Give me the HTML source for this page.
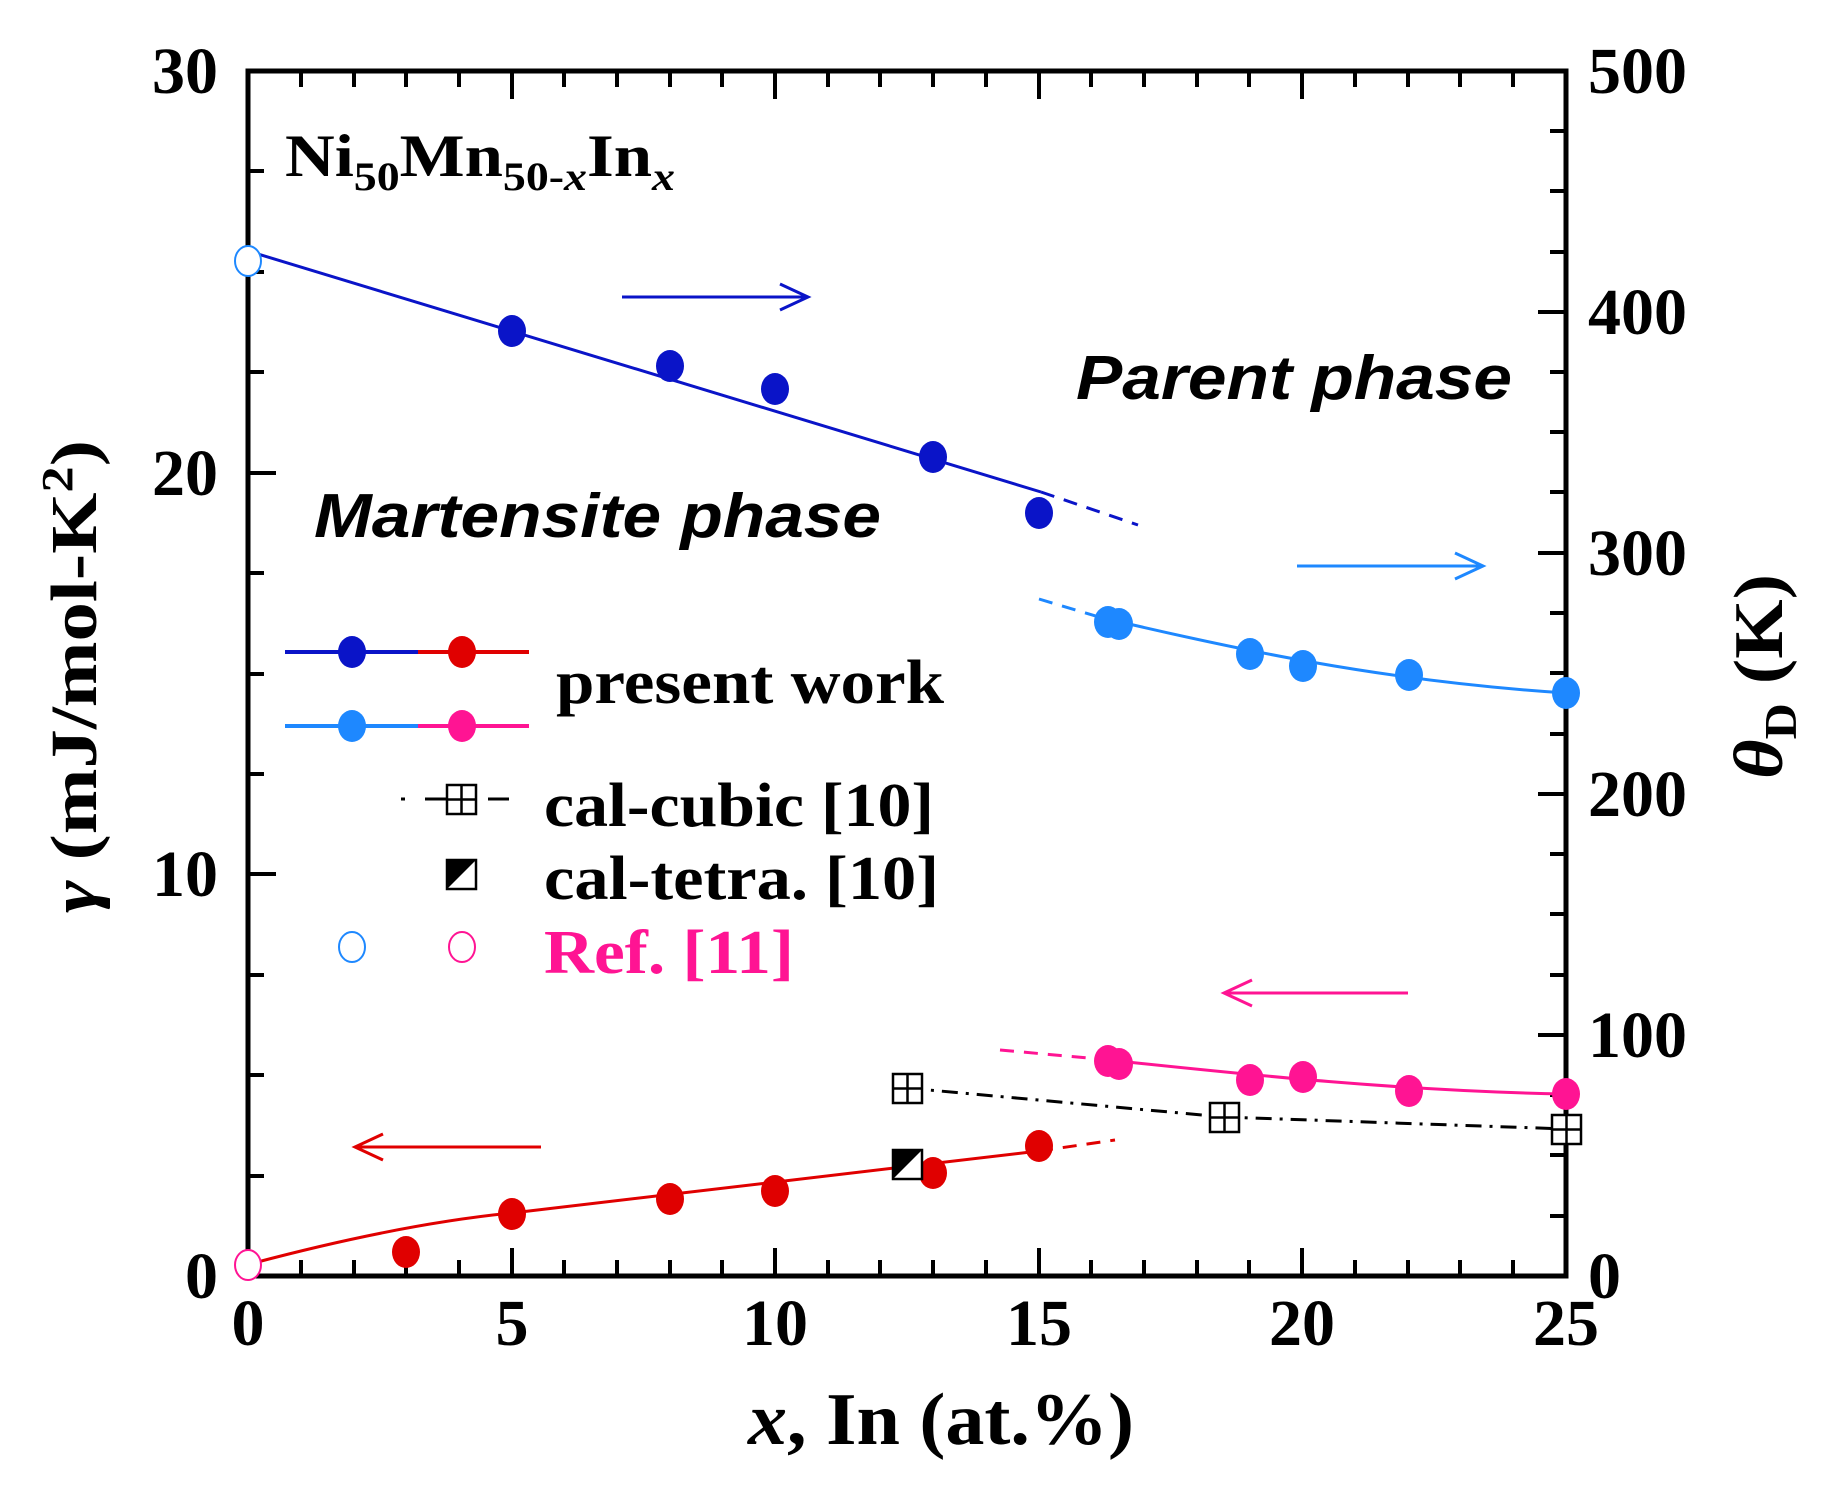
<!DOCTYPE html>
<html><head><meta charset="utf-8"><style>
html,body{margin:0;padding:0;background:#fff;}
svg{display:block;}
text{font-family:"Liberation Serif",serif;font-weight:bold;}
.s{font-family:"Liberation Sans",sans-serif;font-style:italic;font-weight:bold;}
</style></head><body>
<svg width="1824" height="1490" viewBox="0 0 1824 1490" xmlns="http://www.w3.org/2000/svg">
<rect x="248" y="71" width="1318" height="1205" fill="none" stroke="#000" stroke-width="5"/>
<g stroke="#000" stroke-width="4">
<path d="M248,1276v-28M301,1276v-16M354,1276v-16M406,1276v-16M459,1276v-16M512,1276v-28M564,1276v-16M617,1276v-16M670,1276v-16M722,1276v-16M775,1276v-28M828,1276v-16M880,1276v-16M933,1276v-16M986,1276v-16M1039,1276v-28M1091,1276v-16M1144,1276v-16M1197,1276v-16M1249,1276v-16M1302,1276v-28M1355,1276v-16M1408,1276v-16M1460,1276v-16M1513,1276v-16"/>
<path d="M301,71v16M354,71v16M406,71v16M459,71v16M512,71v28M564,71v16M617,71v16M670,71v16M722,71v16M775,71v28M828,71v16M880,71v16M933,71v16M986,71v16M1039,71v28M1091,71v16M1144,71v16M1197,71v16M1249,71v16M1302,71v28M1355,71v16M1408,71v16M1460,71v16M1513,71v16"/>
<path d="M248,1176h16M248,1075h16M248,975h16M248,874h28M248,774h16M248,674h16M248,573h16M248,473h28M248,372h16M248,272h16M248,171h16"/>
<path d="M1566,1216h-16M1566,1155h-16M1566,1095h-16M1566,1035h-28M1566,975h-16M1566,914h-16M1566,854h-16M1566,794h-28M1566,734h-16M1566,673h-16M1566,613h-16M1566,553h-28M1566,492h-16M1566,432h-16M1566,372h-16M1566,312h-28M1566,252h-16M1566,191h-16M1566,131h-16"/>
</g>
<g font-size="66" text-anchor="end">
<text x="218" y="1298">0</text><text x="218" y="896">10</text><text x="218" y="495">20</text><text x="218" y="93">30</text>
</g>
<g font-size="66" text-anchor="start">
<text x="1588" y="1298">0</text><text x="1588" y="1057">100</text><text x="1588" y="816">200</text><text x="1588" y="575">300</text><text x="1588" y="334">400</text><text x="1588" y="93">500</text>
</g>
<g font-size="66" text-anchor="middle">
<text x="248" y="1345">0</text><text x="512" y="1345">5</text><text x="775" y="1345">10</text><text x="1039" y="1345">15</text><text x="1302" y="1345">20</text><text x="1566" y="1345">25</text>
</g>
<text x="748" y="1444" font-size="74" textLength="386" lengthAdjust="spacingAndGlyphs"><tspan font-style="italic">x</tspan>, In (at.%)</text>
<text transform="translate(96,913) rotate(-90)" font-size="66" textLength="473" lengthAdjust="spacingAndGlyphs"><tspan font-style="italic">γ</tspan> (mJ/mol-K<tspan font-size="44" dy="-24">2</tspan><tspan dy="24">)</tspan></text>
<text transform="translate(1782,779) rotate(-90)" font-size="70" textLength="205" lengthAdjust="spacingAndGlyphs"><tspan font-style="italic">θ</tspan><tspan font-size="46" dy="14">D</tspan><tspan dy="-14"> (K)</tspan></text>
<text x="285" y="176" font-size="60" textLength="390" lengthAdjust="spacingAndGlyphs">Ni<tspan font-size="40" dy="14">50</tspan><tspan dy="-14">Mn</tspan><tspan font-size="40" dy="14">50-<tspan font-style="italic">x</tspan></tspan><tspan dy="-14">In</tspan><tspan font-size="40" dy="14" font-style="italic">x</tspan></text>
<text class="s" x="1076" y="399" font-size="62" textLength="436" lengthAdjust="spacingAndGlyphs">Parent phase</text>
<text class="s" x="314" y="537" font-size="62" textLength="567" lengthAdjust="spacingAndGlyphs">Martensite phase</text>
<g fill="none" stroke-width="3">
<path d="M622,297H808M780,284L808,297L780,310" stroke="#0a14c8"/>
<path d="M1297,566H1483M1455,553L1483,566L1455,579" stroke="#1e88ff"/>
<path d="M1408,993H1224M1252,980L1224,993L1252,1006" stroke="#ff1493"/>
<path d="M541,1147H355M383,1134L355,1147L383,1160" stroke="#e00000"/>
</g>
<path d="M248,251L1041,492" stroke="#0a14c8" stroke-width="3" fill="none"/>
<path d="M1041,492L1138,525" stroke="#0a14c8" stroke-width="3" fill="none" stroke-dasharray="14,10"/>
<g fill="#0a14c8">
<ellipse cx="512" cy="331" rx="14" ry="16"/><ellipse cx="670" cy="366" rx="14" ry="16"/><ellipse cx="775" cy="389" rx="14" ry="16"/><ellipse cx="933" cy="457" rx="14" ry="16"/><ellipse cx="1039" cy="513" rx="14" ry="16"/>
</g>
<ellipse cx="248" cy="261" rx="13" ry="15" fill="#fff" stroke="#1e88ff" stroke-width="2"/>
<path d="M1039,599L1099,617" stroke="#1e88ff" stroke-width="3" fill="none" stroke-dasharray="14,10"/>
<path d="M1099,617C1230,648 1380,681 1566,693" stroke="#1e88ff" stroke-width="3" fill="none"/>
<g fill="#1e88ff">
<ellipse cx="1108" cy="622" rx="14" ry="16"/><ellipse cx="1119" cy="624" rx="14" ry="16"/><ellipse cx="1250" cy="654" rx="14" ry="16"/><ellipse cx="1303" cy="666" rx="14" ry="16"/><ellipse cx="1409" cy="675" rx="14" ry="16"/><ellipse cx="1566" cy="693" rx="14" ry="16"/>
</g>
<path d="M250,1264Q400,1224 512,1213L1039,1151" stroke="#e00000" stroke-width="3" fill="none"/>
<path d="M1039,1151L1115,1140" stroke="#e00000" stroke-width="3" fill="none" stroke-dasharray="14,10"/>
<g fill="#e00000">
<ellipse cx="406" cy="1252" rx="14" ry="16"/><ellipse cx="512" cy="1214" rx="14" ry="16"/><ellipse cx="670" cy="1199" rx="14" ry="16"/><ellipse cx="775" cy="1191" rx="14" ry="16"/><ellipse cx="933" cy="1173" rx="14" ry="16"/><ellipse cx="1039" cy="1146" rx="14" ry="16"/>
</g>
<ellipse cx="248" cy="1265" rx="13" ry="15" fill="#fff" stroke="#ff1493" stroke-width="2"/>
<path d="M1000,1050L1099,1059" stroke="#ff1493" stroke-width="3" fill="none" stroke-dasharray="14,10"/>
<path d="M1099,1059C1250,1075 1400,1091 1566,1094" stroke="#ff1493" stroke-width="3" fill="none"/>
<g fill="#ff1493">
<ellipse cx="1108" cy="1061" rx="14" ry="16"/><ellipse cx="1119" cy="1064" rx="14" ry="16"/><ellipse cx="1250" cy="1080" rx="14" ry="16"/><ellipse cx="1303" cy="1077" rx="14" ry="16"/><ellipse cx="1409" cy="1091" rx="14" ry="16"/><ellipse cx="1566" cy="1094" rx="14" ry="16"/>
</g>
<path d="M907,1088L1224,1117L1566,1129" stroke="#000" stroke-width="3" fill="none" stroke-dasharray="16,8,3,8"/>
<g fill="#fff" stroke="#000" stroke-width="2.5">
<rect x="893" y="1074" width="29" height="29"/><path d="M907.5,1074v29M893,1088.5h29"/>
<rect x="1210" y="1103" width="29" height="29"/><path d="M1224.5,1103v29M1210,1117.5h29"/>
<rect x="1552" y="1115" width="29" height="29"/><path d="M1566.5,1115v29M1552,1129.5h29"/>
</g>
<rect x="893" y="1150" width="29" height="29" fill="#fff" stroke="#000" stroke-width="2.5"/>
<path d="M893,1150h29L893,1179z" fill="#000"/>
<path d="M285,652H418" stroke="#0a14c8" stroke-width="4"/><path d="M418,652H529" stroke="#e00000" stroke-width="4"/>
<ellipse cx="352" cy="652" rx="14" ry="16" fill="#0a14c8"/><ellipse cx="462" cy="652" rx="14" ry="16" fill="#e00000"/>
<path d="M285,726H418" stroke="#1e88ff" stroke-width="4"/><path d="M418,726H529" stroke="#ff1493" stroke-width="4"/>
<ellipse cx="352" cy="726" rx="14" ry="16" fill="#1e88ff"/><ellipse cx="462" cy="726" rx="14" ry="16" fill="#ff1493"/>
<text x="556" y="703" font-size="62" textLength="388" lengthAdjust="spacingAndGlyphs">present work</text>
<path d="M401,799h4M425,799h22M488,799h21" stroke="#000" stroke-width="3"/>
<rect x="447" y="785" width="29" height="29" fill="#fff" stroke="#000" stroke-width="2.5"/><path d="M461.5,785v29M447,799.5h29" stroke="#000" stroke-width="2.5"/>
<text x="544" y="826" font-size="62" textLength="390" lengthAdjust="spacingAndGlyphs">cal-cubic [10]</text>
<rect x="447" y="860" width="29" height="29" fill="#fff" stroke="#000" stroke-width="2.5"/><path d="M447,860h29L447,889z" fill="#000"/>
<text x="544" y="899" font-size="62" textLength="395" lengthAdjust="spacingAndGlyphs">cal-tetra. [10]</text>
<ellipse cx="352" cy="947" rx="13" ry="15" fill="#fff" stroke="#1e88ff" stroke-width="2"/>
<ellipse cx="462" cy="947" rx="13" ry="15" fill="#fff" stroke="#ff1493" stroke-width="2"/>
<text x="544" y="973" font-size="62" fill="#ff1493" textLength="250" lengthAdjust="spacingAndGlyphs">Ref. [11]</text>
</svg>
</body></html>
